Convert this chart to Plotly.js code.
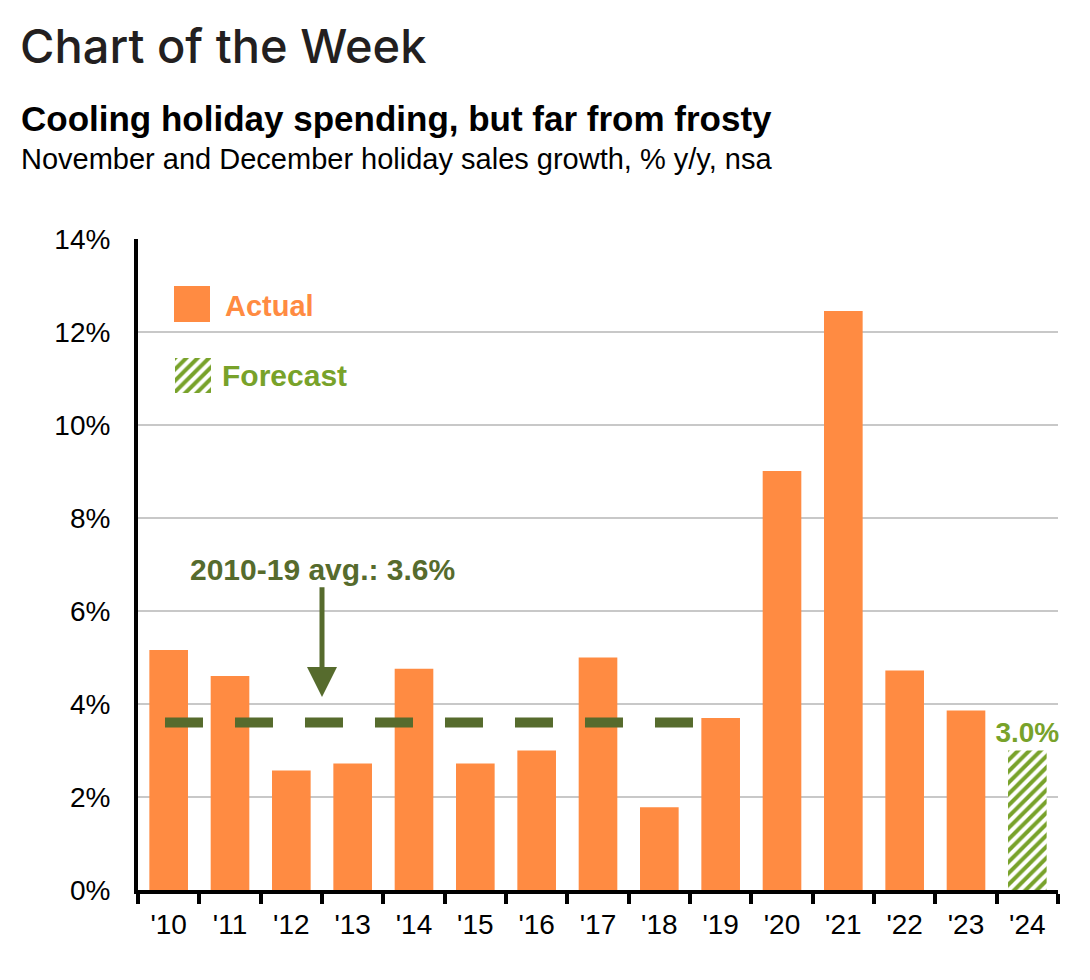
<!DOCTYPE html>
<html>
<head>
<meta charset="utf-8">
<script src="https://cdn.plot.ly/plotly-3.0.1.min.js"></script>
<style>
  html, body { margin: 0; padding: 0; background: #ffffff; }
  #chart { width: 1090px; height: 980px; }
</style>
</head>
<body>
<div id="chart"></div>
<script>
// ---- data ----
const categories = ["'10", "'11", "'12", "'13", "'14", "'15", "'16", "'17", "'18", "'19", "'20", "'21", "'22", "'23", "'24"];
const actualYears = categories.slice(0, 14);
const actualValues = [5.16, 4.6, 2.57, 2.72, 4.76, 2.72, 3.0, 5.0, 1.78, 3.7, 9.01, 12.45, 4.72, 3.86];
const forecastYears = ["'24"];
const forecastValues = [3.0];
const forecastLabels = ["3.0%"];
const avgValue = 3.6;
const avgLabel = "2010-19 avg.: 3.6%";
const yTickVals = [0, 2, 4, 6, 8, 10, 12, 14];
const yTickText = ["0%", "2%", "4%", "6%", "8%", "10%", "12%", "14%"];

// ---- style ----
const ORANGE = '#FF8B42';
const GREEN = '#78A22A';
const OLIVE = '#566B2D';
const FONT = 'Liberation Sans, Arial, sans-serif';

const traces = [
  {
    type: 'bar',
    x: actualYears,
    y: actualValues,
    name: 'Actual',
    marker: { color: ORANGE, line: { width: 0 } },
    hoverinfo: 'x+y',
    showlegend: false
  },
  {
    type: 'bar',
    x: forecastYears,
    y: forecastValues,
    name: 'Forecast',
    text: forecastLabels,
    textposition: 'outside',
    constraintext: 'none',
    cliponaxis: false,
    textfont: { family: FONT, size: 28, color: GREEN, weight: 'bold' },
    marker: {
      color: GREEN,
      line: { width: 0 },
      pattern: { shape: '/', fgcolor: GREEN, bgcolor: '#ffffff', size: 8, solidity: 0.5, fillmode: 'replace' }
    },
    showlegend: false
  },
  // hatched legend swatch
  {
    type: 'bar',
    x: [0],
    y: [1],
    width: [1],
    xaxis: 'x2',
    yaxis: 'y2',
    hoverinfo: 'skip',
    marker: {
      color: GREEN,
      line: { width: 0 },
      pattern: { shape: '/', fgcolor: GREEN, bgcolor: '#ffffff', size: 8, solidity: 0.5, fillmode: 'replace' }
    },
    showlegend: false
  }
];

const L = 138, R = 32, T = 239, B = 90, W = 1090, H = 980;
const PW = W - L - R, PH = H - T - B;
const px = v => (v - L) / PW;          // pixel x -> paper
const py = v => (H - B - v) / PH;      // pixel y -> paper

const layout = {
  width: W,
  height: H,
  margin: { l: L, r: R, t: T, b: B },
  paper_bgcolor: '#ffffff',
  plot_bgcolor: '#ffffff',
  barmode: 'overlay',
  bargap: 0.37,
  showlegend: false,
  font: { family: FONT, color: '#000000' },
  xaxis: {
    type: 'category',
    categoryorder: 'array',
    categoryarray: categories,
    range: [-0.5, 14.5],
    showline: true,
    linecolor: '#000000',
    linewidth: 4,
    ticks: 'outside',
    tickson: 'boundaries',
    ticklen: 10,
    tickwidth: 4,
    tickcolor: '#000000',
    showgrid: false,
    zeroline: false,
    tickfont: { family: FONT, size: 28, color: '#000000' },
    ticklabelstandoff: 6,
    fixedrange: true
  },
  yaxis: {
    range: [0, 14],
    tickvals: yTickVals,
    ticktext: yTickText,
    showline: true,
    linecolor: '#000000',
    linewidth: 4,
    ticks: '',
    showgrid: true,
    gridcolor: '#C8C8C8',
    gridwidth: 2,
    zeroline: false,
    tickfont: { family: FONT, size: 28, color: '#000000' },
    ticklabelstandoff: 18,
    fixedrange: true
  },
  xaxis2: {
    domain: [px(175), px(211)],
    anchor: 'y2',
    range: [-0.5, 0.5],
    visible: false,
    fixedrange: true
  },
  yaxis2: {
    domain: [py(393), py(358)],
    anchor: 'x2',
    range: [0, 1],
    visible: false,
    fixedrange: true
  },
  shapes: [
    {
      type: 'line',
      xref: 'x', yref: 'y',
      x0: -0.06, x1: 8.58,
      y0: avgValue, y1: avgValue,
      line: { color: OLIVE, width: 10, dash: '38px,32px' },
      layer: 'above'
    },
    {
      type: 'rect',
      xref: 'paper', yref: 'paper',
      x0: px(174), x1: px(210),
      y0: py(322), y1: py(286),
      fillcolor: ORANGE,
      line: { width: 0 }
    }
  ],
  annotations: [
    {
      text: 'Chart of the Week',
      xref: 'paper', yref: 'paper',
      x: px(18), y: py(45),
      xanchor: 'left', yanchor: 'middle',
      showarrow: false,
      font: { family: 'Inter, Liberation Sans, sans-serif', size: 47, color: '#231F20', weight: 500 }
    },
    {
      text: '<b>Cooling holiday spending, but far from frosty</b>',
      xref: 'paper', yref: 'paper',
      x: px(19), y: py(119),
      xanchor: 'left', yanchor: 'middle',
      showarrow: false,
      font: { family: FONT, size: 35, color: '#000000' }
    },
    {
      text: 'November and December holiday sales growth, % y/y, nsa',
      xref: 'paper', yref: 'paper',
      x: px(19), y: py(159),
      xanchor: 'left', yanchor: 'middle',
      showarrow: false,
      font: { family: FONT, size: 29, color: '#000000' }
    },
    {
      text: '<b>Actual</b>',
      xref: 'paper', yref: 'paper',
      x: px(223), y: py(306),
      xanchor: 'left', yanchor: 'middle',
      showarrow: false,
      font: { family: FONT, size: 29, color: ORANGE }
    },
    {
      text: '<b>Forecast</b>',
      xref: 'paper', yref: 'paper',
      x: px(220), y: py(375),
      xanchor: 'left', yanchor: 'middle',
      showarrow: false,
      font: { family: FONT, size: 30, color: GREEN }
    },
    {
      text: '<b>' + avgLabel + '</b>',
      xref: 'x', yref: 'y',
      x: 2.5, y: 4.15,
      axref: 'x', ayref: 'y',
      ax: 2.5, ay: 6.9,
      showarrow: true,
      arrowhead: 2,
      arrowwidth: 5,
      arrowsize: 1.2,
      arrowcolor: OLIVE,
      font: { family: FONT, size: 30, color: OLIVE }
    }
  ]
};

Plotly.newPlot('chart', traces, layout, { displayModeBar: false, staticPlot: true });
</script>
</body>
</html>
